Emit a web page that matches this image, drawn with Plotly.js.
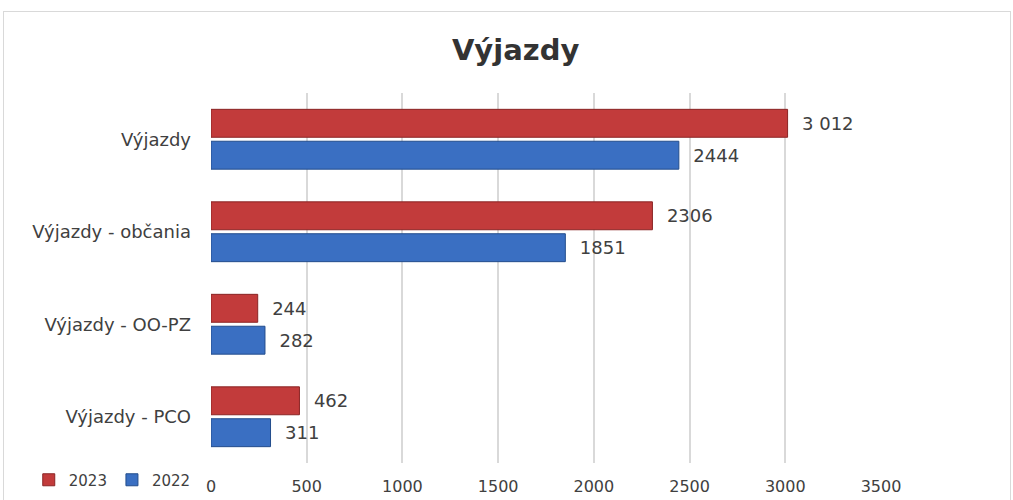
<!DOCTYPE html>
<html><head><meta charset="utf-8">
<script src="https://cdn.plot.ly/plotly-3.0.1.min.js"></script>
<style>
html,body{margin:0;padding:0;background:#fff;}
#wrap{position:relative;width:1013px;height:500px;}
#chart{width:1013px;height:500px;}
#frame{position:absolute;left:3px;top:11px;width:1006px;height:500px;border:1px solid #d9d9d9;pointer-events:none;}
</style></head>
<body>
<div id="wrap"><div id="chart"></div><div id="frame"></div></div>
<script>
const categories = ["Výjazdy", "Výjazdy - občania", "Výjazdy - OO-PZ", "Výjazdy - PCO"];
const values2023 = [3012, 2306, 244, 462];
const values2022 = [2444, 1851, 282, 311];
const labels2023 = ["3 012", "2306", "244", "462"];
const labels2022 = ["2444", "1851", "282", "311"];
const xTicks = [0, 500, 1000, 1500, 2000, 2500, 3000, 3500];

const FONT = "DejaVu Sans, sans-serif";
const labelFont = {family: FONT, size: 18, color: "#404040"};
const traces = [
  {type: "bar", orientation: "h", name: "2023", y: categories, x: values2023,
   text: labels2023, texttemplate: "\u00a0\u00a0%{text}", textposition: "outside",
   textfont: labelFont, cliponaxis: false,
   marker: {color: "#c23b3b", line: {color: "#8a2424", width: 1}}, hoverinfo: "x+name"},
  {type: "bar", orientation: "h", name: "2022", y: categories, x: values2022,
   text: labels2022, texttemplate: "\u00a0\u00a0%{text}", textposition: "outside",
   textfont: labelFont, cliponaxis: false,
   marker: {color: "#3a6fc2", line: {color: "#234d8c", width: 1}}, hoverinfo: "x+name"}
];
const layout = {
  width: 1013, height: 500,
  margin: {l: 211, r: 132, t: 93, b: 37, autoexpand: false},
  paper_bgcolor: "#fff", plot_bgcolor: "#fff",
  title: {text: "<b>Výjazdy</b>", x: 0.509, xanchor: "center", y: 0.9, yanchor: "middle",
          font: {family: FONT, size: 29, color: "#333333"}},
  barmode: "group", bargap: 0.31, bargroupgap: 0.125,
  xaxis: {range: [0, 3500], tickvals: xTicks, ticktext: xTicks.map(String),
          showgrid: true, gridcolor: "#d9d9d9", gridwidth: 2, zeroline: false,
          showline: false, ticks: "", ticklabelstandoff: 12, automargin: false,
          tickfont: {family: FONT, size: 16, color: "#404040"}, fixedrange: true},
  yaxis: {type: "category", categoryorder: "array", categoryarray: categories,
          autorange: "reversed", showgrid: false, zeroline: false, showline: false,
          ticks: "", ticklabelstandoff: 19, automargin: false,
          tickfont: {family: FONT, size: 18, color: "#404040"}, fixedrange: true},
  legend: {orientation: "h", x: -0.272, xanchor: "left", y: -0.046, yanchor: "middle",
           font: {family: FONT, size: 15, color: "#404040"},
           itemwidth: 30, traceorder: "normal", bgcolor: "rgba(0,0,0,0)"},
  showlegend: true
};
Plotly.newPlot("chart", traces, layout, {displayModeBar: false, staticPlot: true});
</script>
</body></html>
